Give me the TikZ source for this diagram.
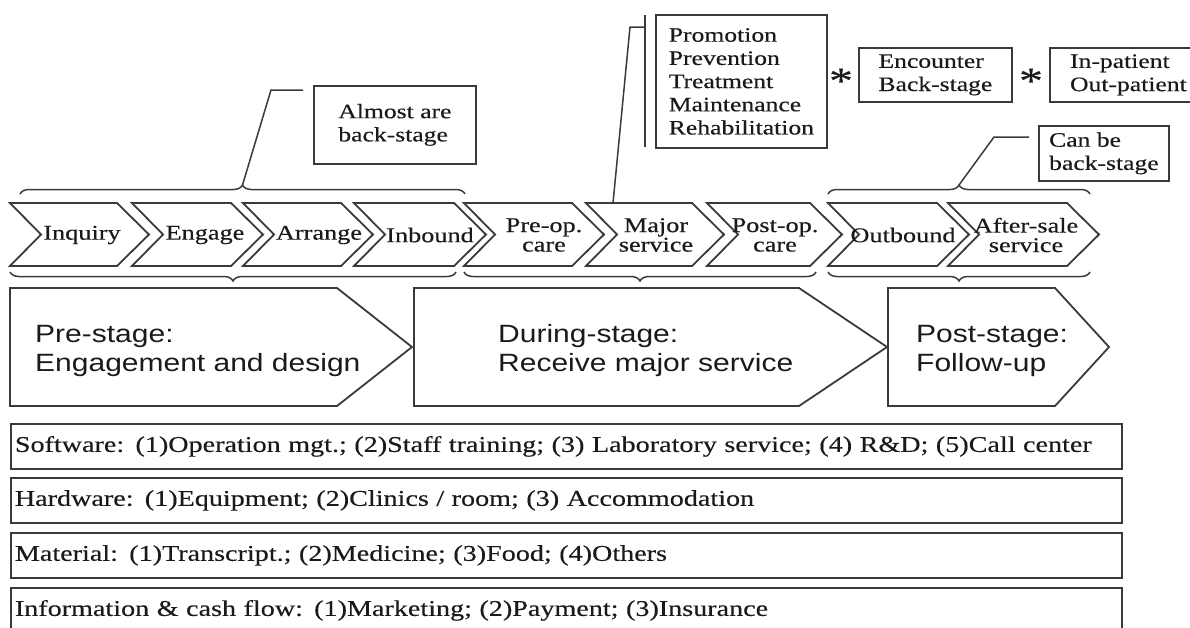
\documentclass[tikz,border=0pt]{standalone}
\usepackage{fontspec}
\setmainfont{Liberation Serif}[FakeStretch=1.25, FakeBold=0.35]
\newfontfamily\stagesans{Liberation Sans}[FakeStretch=1.2]
\usetikzlibrary{decorations.pathreplacing}

\definecolor{linegray}{HTML}{3A3A3A}
\definecolor{ink}{HTML}{1A1A1A}

\tikzset{
  outline/.style={draw=linegray, line width=1.8pt, line join=miter},
  chevlabel/.style={align=center, inner sep=0pt, font=\fontsize{21}{19.5}\selectfont, text=ink},
  calloutbox/.style={outline, align=left, anchor=north west, inner sep=0pt,
    font=\fontsize{20.5}{23.2}\selectfont, text=ink},
  rowbox/.style={outline, align=left, anchor=north west, minimum width=1111pt,
    minimum height=45pt, text width=1103pt, inner xsep=4pt, inner ysep=0pt,
    font=\fontsize{22.5}{26}\selectfont, text=ink},
  stagelabel/.style={align=left, anchor=west, inner sep=0pt,
    font=\stagesans\fontsize{25}{29}\selectfont, text=ink},
  topbrace/.style={draw=linegray, line width=1.5pt, decorate, decoration={brace, amplitude=9pt}},
  botbrace/.style={draw=linegray, line width=1.5pt, decorate, decoration={brace, amplitude=9pt, mirror}},
  leader/.style={draw=linegray, line width=1.5pt},
  star/.style={inner sep=0pt, font=\fontsize{38}{38}\selectfont, text=ink},
}

\begin{document}
\begin{tikzpicture}[x=1pt, y=-1pt]
\clip (0,0) rectangle (1190,627);
\useasboundingbox (0,0) rectangle (1190,627);

% process chevrons: name / left edge / top-right corner / label centre / label
\foreach \nm/\l/\r/\cx/\txt in {
  inq/10/117/82/Inquiry,
  eng/132/231/205/Engage,
  arr/243/341/319/Arrange,
  inb/354/454/430/Inbound,
  preop/464/572/544/Pre-op.\\care,
  major/586/692/656/Major\\service,
  postop/707/810/775/Post-op.\\care,
  outb/828/937/903/Outbound,
  after/948/1067/1026/After-sale\\service}{
  \draw[outline] (\l,203) -- (\r,203) -- ({\r+32},234.5) -- (\r,266) -- (\l,266) -- ({\l+31},234.5) -- cycle;
  \node[chevlabel] (\nm) at (\cx,235) {\txt};
}

% stage arrows
\draw[outline] (10,288) -- (337,288) -- (412,347) -- (337,406) -- (10,406) -- cycle;
\draw[outline] (414,288) -- (799,288) -- (887,347) -- (799,406) -- (414,406) -- cycle;
\draw[outline] (888,288) -- (1055,288) -- (1109,347) -- (1055,406) -- (888,406) -- cycle;
\node[stagelabel] (pre) at (35,351) {Pre-stage:\\Engagement and design};
\node[stagelabel] (during) at (498,351) {During-stage:\\Receive major service};
\node[stagelabel] (post) at (916,351) {Post-stage:\\Follow-up};

% braces over and under the chevrons
\draw[topbrace] (20,194) -- (465,194);
\draw[topbrace] (828,194) -- (1090,194);
\draw[botbrace] (10,272) -- (456,272);
\draw[botbrace] (464,272) -- (816,272);
\draw[botbrace] (828,272) -- (1090,272);

% callout boxes
\node[calloutbox, minimum width=162pt, minimum height=78pt] (almost) at (313,85) {Almost are\\back-stage};
\node[calloutbox, minimum width=171pt, minimum height=133pt] (kinds) at (655,14)
  {Promotion\\Prevention\\Treatment\\Maintenance\\Rehabilitation};
\node[calloutbox, minimum width=153pt, minimum height=54pt] (encounter) at (858,47) {Encounter\\Back-stage};
\node[calloutbox, minimum width=157pt, minimum height=54pt] (patient) at (1049,47) {In-patient\\Out-patient};
\node[calloutbox, minimum width=130pt, minimum height=55pt] (canbe) at (1038,125) {Can be\\back-stage};
\node[star] (star1) at (841,81) {*};
\node[star] (star2) at (1031,81) {*};

% leader lines
\coordinate (tipA) at (242.5,185);
\coordinate (tipB) at (959,185);
\coordinate (majTop) at (613,203);
\coordinate (almostIn) at (303,90);
\coordinate (canbeIn) at (1029,137);
\coordinate (kindsIn) at (645,27);
\draw[leader] (tipA) -- (271,90) -- (almostIn);
\draw[leader] (tipB) -- (994,137) -- (canbeIn);
\draw[leader] (majTop) -- (630,27) -- (kindsIn);
\draw[leader] (645,15) -- (645,147);

% resource rows
\node[rowbox] (software) at (10,423) {\mbox{Software: (1)Operation mgt.; (2)Staff training; (3) Laboratory service; (4) R\&D; (5)Call center}};
\node[rowbox] (hardware) at (10,477) {\mbox{Hardware: (1)Equipment; (2)Clinics / room; (3) Accommodation}};
\node[rowbox] (material) at (10,532) {\mbox{Material: (1)Transcript.; (2)Medicine; (3)Food; (4)Others}};
\node[rowbox] (info) at (10,587) {\mbox{Information \& cash flow: (1)Marketing; (2)Payment; (3)Insurance}};
\end{tikzpicture}
\end{document}
